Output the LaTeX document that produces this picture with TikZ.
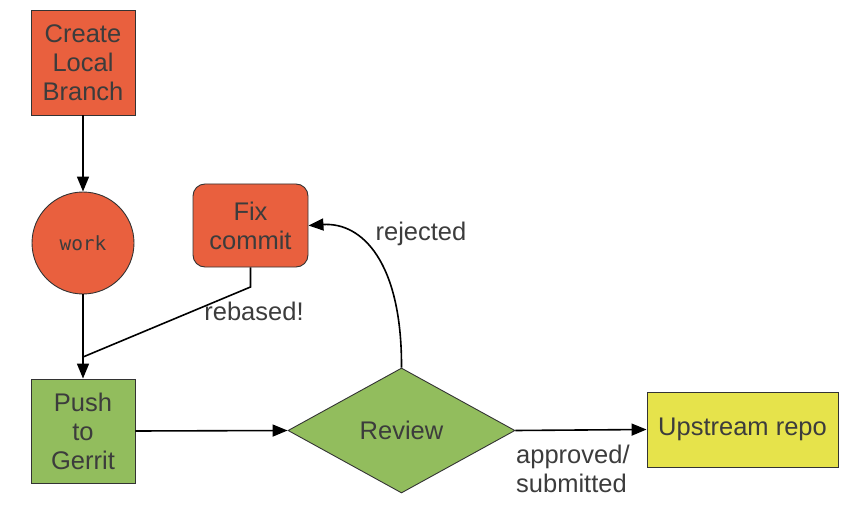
\documentclass[tikz,border=0pt]{standalone}
\usepackage{fontspec}
\setmainfont{Liberation Sans}
\newfontfamily\workmono{DejaVu Sans Mono}
\usetikzlibrary{shapes.geometric,arrows.meta}
\definecolor{boxred}{HTML}{E9603E}
\definecolor{boxgreen}{HTML}{92BD5D}
\definecolor{boxyellow}{HTML}{E6E34B}
\definecolor{txt}{HTML}{3C3C3C}
\definecolor{edge}{HTML}{333333}
\tikzset{
  basebox/.style={draw=edge, line width=0.9pt, text=txt, inner sep=0pt, align=center,
    font=\fontsize{25.5}{29}\selectfont},
  redbox/.style={basebox, fill=boxred, rectangle},
  greenbox/.style={basebox, fill=boxgreen, rectangle},
  lbl/.style={text=txt, inner sep=0pt, align=left, font=\fontsize{25.5}{29}\selectfont},
  conn/.style={draw=black, line width=1.6pt, -{Triangle[length=15pt,width=12pt]}},
  plainconn/.style={draw=black, line width=1.6pt}
}
\begin{document}
\begin{tikzpicture}[x=1pt,y=-1pt]
\useasboundingbox (0,0) rectangle (868,508);
\node[redbox, minimum width=104pt, minimum height=105pt] (create) at (83,62.5) {Create\\Local\\Branch};
\node[basebox, circle, fill=boxred, minimum size=102pt, font=\workmono\fontsize{19.5}{22}\selectfont] (work) at (83,243) {work};
\node[greenbox, minimum width=104pt, minimum height=104pt] (push) at (83,431) {Push\\to\\Gerrit};
\node[redbox, rounded corners=12pt, minimum width=115pt, minimum height=83pt] (fix) at (250.5,225.5) {Fix\\commit};
\node[basebox, diamond, fill=boxgreen, minimum width=227pt, minimum height=125pt] (review) at (401.5,430.5) {Review};
\node[basebox, rectangle, fill=boxyellow, minimum width=191pt, minimum height=75pt] (up) at (742.5,429.5) {Upstream repo};
\coordinate (bend) at (250.5,287);
\coordinate (join) at (83,357);
\draw[conn] (create.south) -- (work.north);
\draw[conn] (work.south) -- (push.north);
\draw[plainconn] (fix.south) -- (bend) -- (join);
\draw[conn] (push.east) -- (review.west);
\draw[conn] (review.east) -- (up.west);
\draw[conn] (review.north) .. controls (402,262) and (362,222) .. (fix.east);
\node[lbl] (rebased) at (254,311) {rebased!};
\node[lbl] (rejected) at (421,234) {rejected};
\node[lbl, anchor=west] (approved) at (516,469) {approved/\\submitted};
\end{tikzpicture}
\end{document}
